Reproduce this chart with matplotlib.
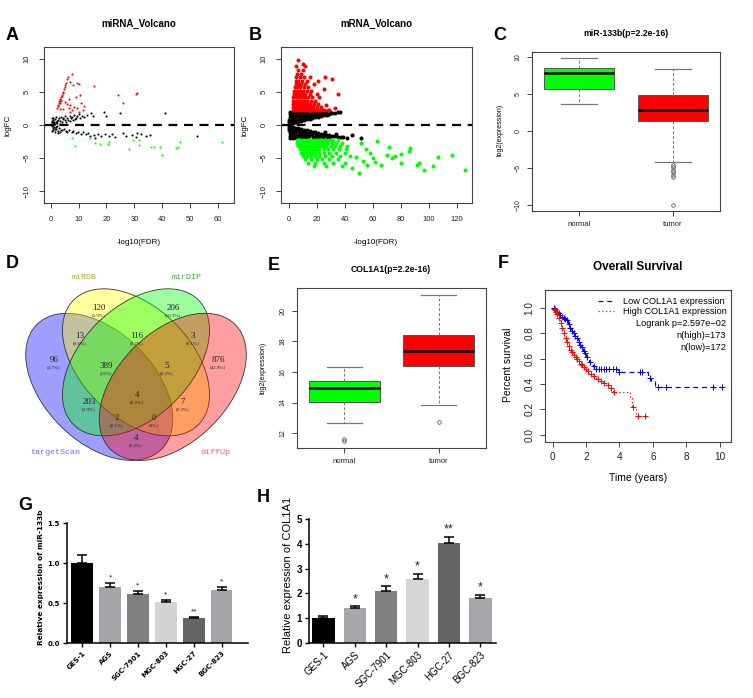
import matplotlib
matplotlib.use('Agg')
import matplotlib.pyplot as plt
from matplotlib.patches import Ellipse
from matplotlib.lines import Line2D
import numpy as np

plt.rcParams['font.family'] = ['Liberation Sans', 'DejaVu Sans']

# ---------------- data ----------------
# volcano A (miRNA): (-log10 FDR, logFC)
volc_a_red = [(2.2, 2.6), (2.5, 3.0), (2.8, 3.3), (3.0, 3.6), (3.2, 3.4), (3.5, 4.0), (3.8, 4.2),
              (4.0, 4.6), (4.3, 4.8), (4.5, 5.0), (4.8, 5.4), (5.0, 5.8), (5.3, 6.0), (5.6, 6.3),
              (5.9, 6.9), (6.2, 7.2), (7.5, 7.7), (6.8, 6.5), (5.0, 3.5), (6.0, 3.2), (6.5, 2.5),
              (7.0, 3.0), (7.8, 2.2), (8.5, 2.7), (9.0, 4.2), (9.5, 6.3), (10.0, 6.2), (10.5, 4.5),
              (11.0, 3.3), (11.5, 2.2), (12.0, 2.8), (8.0, 6.1), (3.2, 2.4), (4.5, 2.4), (6.5, 4.0),
              (15.5, 5.9), (24.0, 4.5), (26.0, 3.3), (30.5, 4.7), (31.0, 4.8), (9.5, 2.5), (7.0, 2.0),
              (10.0, 2.0), (3.6, 3.8), (4.2, 4.4), (2.6, 2.9), (3.4, 3.7)]
volc_a_green = [(7.5, -2.0), (8.8, -3.2), (14.0, -2.0), (16.0, -2.7), (17.5, -2.9), (20.5, -2.8),
                (21.0, -2.6), (28.0, -3.6), (31.5, -2.2), (31.5, -3.0), (36.0, -3.3), (37.0, -3.3),
                (39.0, -3.3), (40.0, -4.6), (45.0, -3.5), (45.5, -3.4), (46.5, -2.6), (61.5, -2.5),
                (29.5, -2.2)]
volc_a_black = [(0.2, 0.1), (0.4, -0.2), (0.5, 0.4), (0.7, -0.5), (0.8, 0.7), (1.0, -0.8), (1.0, 1.1),
                (1.2, 0.2), (1.3, -0.3), (1.5, 0.9), (1.6, -1.0), (1.8, 0.5), (2.0, -0.6), (2.0, 1.2),
                (2.3, 0.3), (2.5, -0.9), (2.6, 0.8), (2.8, -0.4), (3.0, 1.0), (3.2, -1.1), (3.4, 0.6),
                (3.6, -0.7), (3.8, 1.2), (4.0, 0.5), (4.2, -0.8), (4.5, 0.9), (4.8, -0.6), (5.0, 1.3),
                (5.2, 0.7), (5.5, -0.9), (5.8, 1.1), (6.0, -1.0), (6.3, 0.8), (6.6, -0.7), (6.9, 1.4),
                (7.2, 1.0), (7.5, -1.1), (7.8, 1.2), (8.1, -0.9), (8.5, 1.5), (8.8, 0.9), (9.0, -1.2),
                (9.4, 1.3), (9.8, -1.0), (10.2, 1.6), (10.5, 1.0), (10.8, -1.3), (11.2, 1.4), (11.5, -1.1),
                (12.0, 1.2), (12.5, -1.4), (13.0, 1.5), (13.5, -1.2), (14.0, -1.6), (14.5, 1.8), (15.0, 1.3),
                (15.5, -1.5), (16.0, -1.9), (17.0, -1.3), (18.0, -1.6), (19.0, 2.0), (19.5, -1.4),
                (20.0, 1.4), (21.0, -1.7), (22.0, -1.3), (23.0, -1.8), (25.0, 1.8), (26.0, -1.2),
                (27.0, -1.6), (29.0, -1.5), (30.5, -1.8), (31.0, -1.2), (32.5, -1.4), (34.0, -1.6),
                (35.5, -1.5), (41.0, 1.8), (52.5, -1.6), (0.3, 0.6), (0.6, -0.9), (1.1, 0.5), (1.4, -0.6),
                (1.7, 0.2), (2.2, -0.2), (0.9, 0.0), (0.5, 1.0), (3.3, 0.2), (2.7, -1.2), (5.6, 0.4),
                (4.4, 1.1), (7.0, 0.6), (8.0, 0.8), (9.2, 1.1), (1.9, -0.3), (2.4, 0.6), (0.8, 0.3)]

# volcano B (mRNA)
volc_b_black = [(0.3, 0.1), (0.5, 0.4), (0.6, 0.8), (0.8, 1.2), (0.9, 1.6), (1.0, 1.95),
                (1.6, 0.2), (1.8, 0.6), (1.7, 1.0), (2.0, 1.4), (1.9, 1.8),
                (3.0, 0.3), (3.2, 0.7), (2.9, 1.1), (3.3, 1.5), (3.1, 1.9),
                (4.6, 0.4), (5.0, 0.8), (4.8, 1.2), (5.2, 1.6), (4.9, 1.95),
                (6.8, 0.5), (7.1, 0.9), (6.9, 1.3), (7.2, 1.7), (7.0, 1.95),
                (9.0, 0.6), (9.2, 1.0), (8.8, 1.4), (9.1, 1.8),
                (11.0, 0.75), (11.3, 1.1), (10.9, 1.5), (11.2, 1.9),
                (13.1, 0.85), (12.9, 1.25), (13.2, 1.6), (13.0, 1.95),
                (15.0, 0.95), (15.3, 1.35), (14.9, 1.7), (17.0, 1.05), (17.2, 1.45), (16.9, 1.8),
                (19.1, 1.15), (18.9, 1.55), (19.2, 1.9), (21.0, 1.25), (21.2, 1.6), (20.9, 1.95),
                (23.1, 1.35), (22.9, 1.75), (25.0, 1.45), (25.3, 1.85), (27.2, 1.55), (26.9, 1.9),
                (29.0, 1.65), (29.3, 1.95), (31.0, 1.75), (33.2, 1.85), (35.0, 1.9), (36.5, 1.9),
                (0.3, -0.1), (0.5, -0.4), (0.6, -0.8), (0.8, -1.2), (0.9, -1.6), (1.0, -1.95),
                (1.7, -0.25), (1.9, -0.65), (1.8, -1.05), (2.0, -1.45), (1.9, -1.85),
                (3.1, -0.3), (3.0, -0.75), (3.3, -1.15), (2.9, -1.55), (3.2, -1.95),
                (4.8, -0.4), (5.1, -0.85), (4.9, -1.25), (5.2, -1.65), (5.0, -1.95),
                (7.0, -0.5), (6.8, -0.9), (7.2, -1.3), (6.9, -1.7), (9.1, -0.6), (8.9, -1.0),
                (9.2, -1.4), (9.0, -1.8), (11.2, -0.7), (11.0, -1.1), (10.8, -1.5), (11.1, -1.9),
                (13.0, -0.8), (13.3, -1.2), (12.9, -1.6), (13.1, -1.95), (15.2, -0.9), (15.0, -1.3),
                (14.8, -1.7), (17.1, -1.0), (16.9, -1.4), (17.2, -1.8), (19.0, -1.1), (19.3, -1.5),
                (18.9, -1.9), (21.1, -1.2), (20.8, -1.6), (21.2, -1.95), (23.0, -1.3), (23.2, -1.7),
                (25.1, -1.35), (24.9, -1.75), (27.0, -1.45), (27.3, -1.85), (29.2, -1.5), (28.9, -1.9),
                (31.0, -1.6), (33.1, -1.7), (35.0, -1.75), (37.2, -1.8), (39.0, -1.85), (42.0, -1.9),
                (45.5, -1.5), (52.0, -1.9), (34.0, -1.3), (26.0, -1.1)]
volc_b_red = [(3.0, 2.2), (5.0, 2.2), (7.0, 2.2), (9.0, 2.2), (11.0, 2.2), (13.0, 2.2), (15.0, 2.2),
              (17.0, 2.2), (19.0, 2.2), (21.0, 2.2), (23.0, 2.2), (25.0, 2.2), (28.0, 2.2),
              (3.2, 2.7), (5.1, 2.7), (7.2, 2.7), (9.1, 2.7), (11.2, 2.7), (13.1, 2.7), (15.2, 2.7),
              (17.1, 2.7), (20.0, 2.7), (23.0, 2.7),
              (3.0, 3.2), (5.0, 3.2), (7.0, 3.2), (9.0, 3.2), (11.0, 3.2), (13.0, 3.2), (15.0, 3.2),
              (18.0, 3.2), (21.0, 3.2),
              (3.2, 3.7), (5.2, 3.7), (7.1, 3.7), (9.2, 3.7), (11.1, 3.7), (13.2, 3.7), (16.0, 3.7),
              (19.0, 3.7),
              (3.5, 4.2), (5.5, 4.2), (7.5, 4.2), (9.5, 4.2), (11.5, 4.2), (14.0, 4.2), (17.0, 4.2),
              (4.0, 4.7), (6.0, 4.7), (8.0, 4.7), (10.0, 4.7), (12.0, 4.7), (15.0, 4.7), (20.0, 4.7),
              (4.0, 5.2), (6.0, 5.2), (8.0, 5.2), (10.0, 5.2), (13.0, 5.2), (16.0, 5.2),
              (4.5, 5.7), (6.5, 5.7), (8.5, 5.7), (11.0, 5.7), (14.0, 5.7),
              (5.0, 6.2), (7.0, 6.2), (9.0, 6.2), (12.0, 6.2),
              (5.0, 6.7), (7.0, 6.7), (9.5, 6.7), (13.0, 6.7),
              (5.5, 7.2), (8.0, 7.2), (11.0, 7.2), (6.0, 7.7), (9.0, 7.7), (6.5, 8.3), (10.0, 8.3),
              (7.0, 9.9), (10.5, 9.2), (5.5, 8.9), (15.0, 7.3), (26.0, 7.2), (31.0, 6.9), (21.0, 6.6),
              (35.0, 4.7), (25.0, 5.5), (18.0, 6.2), (29.0, 2.3), (33.0, 2.5), (27.0, 3.0), (22.0, 4.2),
              (12.0, 9.0)]
volc_b_green = [(6.0, -2.2), (8.0, -2.2), (10.0, -2.2), (12.0, -2.2), (14.0, -2.2), (16.0, -2.2),
                (18.0, -2.2), (20.0, -2.2), (22.0, -2.2), (24.0, -2.2), (26.0, -2.2), (28.0, -2.2),
                (30.0, -2.2), (32.0, -2.2), (35.0, -2.2),
                (6.2, -2.7), (8.1, -2.7), (10.2, -2.7), (12.1, -2.7), (14.2, -2.7), (16.1, -2.7),
                (18.2, -2.7), (20.1, -2.7), (22.2, -2.7), (24.1, -2.7), (26.2, -2.7), (28.1, -2.7),
                (31.0, -2.7), (34.0, -2.7), (38.0, -2.7),
                (7.0, -3.2), (9.0, -3.2), (11.0, -3.2), (13.0, -3.2), (15.0, -3.2), (17.0, -3.2),
                (19.0, -3.2), (21.0, -3.2), (23.0, -3.2), (25.0, -3.2), (27.0, -3.2), (30.0, -3.2),
                (33.0, -3.2), (37.0, -3.2), (42.0, -3.2),
                (8.0, -3.7), (10.0, -3.7), (12.0, -3.7), (14.0, -3.7), (16.0, -3.7), (18.0, -3.7),
                (20.0, -3.7), (22.0, -3.7), (25.0, -3.7), (28.0, -3.7), (32.0, -3.7), (36.0, -3.7),
                (41.0, -3.7),
                (9.0, -4.2), (11.0, -4.2), (13.0, -4.2), (15.0, -4.2), (17.0, -4.2), (19.0, -4.2),
                (22.0, -4.2), (25.0, -4.2), (29.0, -4.2), (34.0, -4.2), (40.0, -4.2),
                (10.0, -4.7), (13.0, -4.7), (16.0, -4.7), (19.0, -4.7), (22.0, -4.7), (26.0, -4.7),
                (31.0, -4.7), (37.0, -4.7), (44.0, -4.7),
                (12.0, -5.2), (16.0, -5.2), (20.0, -5.2), (24.0, -5.2), (29.0, -5.2), (35.0, -5.2),
                (14.0, -5.7), (19.0, -5.7), (25.0, -5.7), (32.0, -5.7), (40.0, -5.7),
                (18.0, -6.2), (27.0, -6.2), (38.0, -6.2),
                (50.0, -7.2), (45.0, -6.5), (56.0, -6.0), (62.0, -5.6), (66.0, -6.0), (70.0, -4.5),
                (72.0, -3.4), (74.0, -5.0), (80.0, -5.8), (80.0, -4.4), (86.0, -3.9), (87.0, -3.5),
                (92.0, -6.0), (93.0, -5.7), (97.0, -6.8), (103.0, -6.2), (107.0, -4.8), (117.0, -4.5),
                (126.0, -6.8), (63.0, -2.4), (76.0, -4.7), (55.0, -3.6), (58.0, -4.2), (60.0, -5.0),
                (53.0, -5.5), (48.0, -4.8), (52.0, -2.7)]

# boxplots
box_groups = ['normal', 'tumor']
mir_q1 = [5.7, 1.3]
mir_med = [7.8, 2.8]
mir_q3 = [8.5, 4.9]
mir_lo = [3.7, -4.1]
mir_hi = [9.8, 8.4]
mir_out = [[], [-4.6, -4.9, -5.2, -5.5, -5.9, -6.2, -10.0]]
col_q1 = [14.05, 16.4]
col_med = [14.93, 17.4]
col_q3 = [15.4, 18.45]
col_lo = [12.65, 13.85]
col_hi = [16.35, 21.05]
col_out = [[11.45, 11.6], [12.75]]

# venn
venn_sets = ['targetScan', 'miRDB', 'mirDIP', 'diffUp']
venn_counts = [96, 120, 206, 876, 13, 116, 3, 389, 5, 203, 4, 7, 2, 0, 4]
venn_pct = ['4.7%', '5.9%', '10.1%', '42.9%', '0.6%', '5.7%', '0.1%', '19%', '0.2%',
            '9.9%', '0.2%', '0.3%', '0.1%', '0%', '0.2%']

# survival
km_low_t = [0, 0.1, 0.2, 0.3, 0.4, 0.5, 0.6, 0.7, 0.8, 0.9, 1.0, 1.1, 1.2, 1.3, 1.4, 1.5, 1.6,
            1.7, 1.8, 1.9, 2.0, 2.1, 2.2, 2.3, 2.4, 2.5, 3.9, 5.7, 5.9, 6.1, 10.2]
km_low_s = [1.0, 0.99, 0.97, 0.96, 0.94, 0.93, 0.92, 0.91, 0.90, 0.87, 0.84, 0.82, 0.80, 0.78,
            0.76, 0.73, 0.71, 0.69, 0.66, 0.64, 0.61, 0.59, 0.57, 0.55, 0.54, 0.52, 0.49, 0.45,
            0.42, 0.375, 0.375]
km_low_cens = [0.08, 0.15, 0.25, 0.35, 0.45, 0.55, 0.65, 0.75, 0.85, 0.95, 1.05, 1.15, 1.25,
               1.35, 1.45, 1.55, 1.65, 1.75, 1.85, 1.95, 2.05, 2.25, 2.45, 2.6, 2.75, 2.9, 3.05,
               3.2, 3.4, 3.6, 3.8, 4.0, 5.2, 5.35, 5.8, 6.3, 6.8, 9.6, 10.15]
km_high_t = [0, 0.05, 0.1, 0.15, 0.2, 0.25, 0.3, 0.35, 0.4, 0.45, 0.5, 0.55, 0.6, 0.65, 0.7, 0.75,
             0.8, 0.9, 1.0, 1.1, 1.2, 1.3, 1.4, 1.5, 1.6, 1.7, 1.8, 1.9, 2.0, 2.2, 2.4, 2.6, 2.8,
             3.0, 3.2, 3.4, 3.6, 4.65, 4.75, 5.0, 5.6]
km_high_s = [1.0, 0.99, 0.98, 0.97, 0.96, 0.95, 0.93, 0.92, 0.90, 0.88, 0.86, 0.84, 0.82, 0.80,
             0.78, 0.76, 0.73, 0.70, 0.67, 0.65, 0.63, 0.61, 0.60, 0.58, 0.56, 0.55, 0.53, 0.52,
             0.50, 0.48, 0.46, 0.44, 0.42, 0.41, 0.39, 0.37, 0.34, 0.29, 0.22, 0.15, 0.15]
km_high_cens = [0.05, 0.12, 0.18, 0.28, 0.38, 0.48, 0.58, 0.68, 0.78, 0.88, 0.98, 1.08, 1.18,
                1.28, 1.38, 1.48, 1.58, 1.68, 1.78, 1.88, 1.98, 2.1, 2.3, 2.5, 2.7, 2.9, 3.1,
                3.3, 3.5, 3.7, 4.8, 5.1, 5.55]

# qPCR bars
cells = ['GES-1', 'AGS', 'SGC-7901', 'MGC-803', 'HGC-27', 'BGC-823']
mir_rel = [1.0, 0.70, 0.61, 0.51, 0.31, 0.66]
mir_err = [0.10, 0.05, 0.04, 0.03, 0.02, 0.04]
mir_sig = ['', '*', '*', '*', '**', '*']
col_rel = [1.0, 1.4, 2.1, 2.6, 4.02, 1.8]
col_err = [0.08, 0.08, 0.18, 0.18, 0.26, 0.13]
col_sig = ['', '*', '*', '*', '**', '*']

# ---------------- figure ----------------
W, H = 753, 698
fig = plt.figure(figsize=(W / 100, H / 100), dpi=100)


def rect(l, t, r, b):
    return [l / W, 1 - b / H, (r - l) / W, (b - t) / H]


def ftext(x, y, s, **kw):
    kw.setdefault('ha', 'center')
    kw.setdefault('va', 'center')
    fig.text(x / W, 1 - y / H, s, **kw)


def r_style(ax, size=5.5, pad=4):
    for s in ax.spines.values():
        s.set_color('#444444')
        s.set_linewidth(0.8)
    ax.tick_params(length=3.5, width=0.7, color='#444444', labelsize=size, pad=pad,
                   labelcolor='#222222')
    ax.tick_params(axis='y', labelrotation=90)
    for lab in ax.get_yticklabels():
        lab.set_va('center')


# panel letters
for letter, x, y in [('A', 12, 35), ('B', 255, 36), ('C', 500, 36), ('D', 12, 264),
                     ('E', 274, 266), ('F', 503, 264), ('G', 25, 505), ('H', 263, 497)]:
    ftext(x, y, letter, fontsize=13, fontweight='bold')


# volcano plots
def volcano(r, red, green, black, xlim, xticks, ms):
    ax = fig.add_axes(rect(*r))
    for pts, c in [(black, 'black'), (red, 'red'), (green, '#00ff00')]:
        xy = np.array(pts).T
        ax.plot(xy[0], xy[1], 'o', ms=ms, mew=0, color=c)
    ax.axhline(0, color='black', lw=1.6, ls=(0, (4, 3)))
    ax.set_xlim(*xlim)
    ax.set_ylim(-11.8, 11.8)
    ax.set_xticks(xticks)
    ax.set_yticks([-10, -5, 0, 5, 10])
    r_style(ax, pad=6)
    return ax


volcano((44, 47, 234, 203), volc_a_red, volc_a_green, volc_a_black, (-2.4, 65.7),
        range(0, 61, 10), 1.5)
volcano((281, 47, 472, 203), volc_b_red, volc_b_green, volc_b_black, (-5.4, 131),
        range(0, 121, 20), 2.9)
ftext(139, 24, 'miRNA_Volcano', fontsize=7, fontweight='bold')
ftext(376, 24, 'mRNA_Volcano', fontsize=7, fontweight='bold')
for x in (139, 376):
    ftext(x, 242, '-log10(FDR)', fontsize=5.8)
ftext(8, 125, 'logFC', fontsize=5.8, rotation=90)
ftext(245, 125, 'logFC', fontsize=5.8, rotation=90)


# boxplots
def boxpanel(r, q1, med, q3, lo, hi, out, ylim, yticks, ysize):
    ax = fig.add_axes(rect(*r))
    stats = [dict(q1=q1[i], med=med[i], q3=q3[i], whislo=lo[i], whishi=hi[i], fliers=out[i])
             for i in range(2)]
    bp = ax.bxp(stats, positions=[1, 2], widths=0.75, patch_artist=True,
                boxprops=dict(edgecolor='#555555', linewidth=0.7),
                medianprops=dict(color='black', linewidth=1.8),
                whiskerprops=dict(color='#777777', linewidth=0.7, linestyle=(0, (3, 2))),
                capprops=dict(color='#777777', linewidth=0.9),
                flierprops=dict(marker='o', mfc='none', mec='#444444', ms=2.6, mew=0.5))
    for patch, c in zip(bp['boxes'], ['#00ff00', '#ff0000']):
        patch.set_facecolor(c)
    ax.set_xlim(0.5, 2.5)
    ax.set_ylim(*ylim)
    ax.set_yticks(yticks)
    ax.set_xticks([1, 2])
    ax.set_xticklabels(box_groups)
    r_style(ax, ysize)
    ax.tick_params(axis='x', labelsize=5.5)
    return ax


boxpanel((532, 52, 720, 211), mir_q1, mir_med, mir_q3, mir_lo, mir_hi, mir_out,
         (-10.77, 10.67), [-10, -5, 0, 5, 10], 5)
ftext(626, 33, 'miR-133b(p=2.2e-16)', fontsize=6.2, fontweight='bold')
ftext(500, 130, 'log2(expression)', fontsize=5, rotation=90)

boxpanel((297, 288, 486, 448), col_q1, col_med, col_q3, col_lo, col_hi, col_out,
         (11.02, 21.5), [12, 14, 16, 18, 20], 5)
ftext(391, 270, 'COL1A1(p=2.2e-16)', fontsize=6.2, fontweight='bold')
ftext(263, 368, 'log2(expression)', fontsize=5, rotation=90)

# venn
axv = fig.add_axes(rect(13.5, 257, 258.5, 477.5))
axv.set_xlim(0, 1)
axv.set_ylim(0.1, 1.0)
axv.axis('off')
ell_geom = [((0.35, 0.47), -45, 'blue'), ((0.5, 0.57), -45, 'yellow'),
            ((0.5, 0.57), 45, '#00ff00'), ((0.65, 0.47), 45, 'red')]
for (cxy, ang, c) in ell_geom:
    axv.add_patch(Ellipse(cxy, 0.72, 0.45, angle=ang, facecolor=c, alpha=0.38, lw=0))
    axv.add_patch(Ellipse(cxy, 0.72, 0.45, angle=ang, facecolor='none', edgecolor='#333333',
                          lw=0.6))
venn_pos = [(0.165, 0.571), (0.349, 0.784), (0.651, 0.784), (0.835, 0.571), (0.271, 0.669),
            (0.504, 0.669), (0.733, 0.669), (0.378, 0.547), (0.627, 0.547), (0.308, 0.400),
            (0.504, 0.429), (0.692, 0.400), (0.422, 0.335), (0.573, 0.335), (0.5, 0.253)]
for (x, y), n, p in zip(venn_pos, venn_counts, venn_pct):
    axv.text(x, y + 0.008, str(n), ha='center', va='center', fontsize=6.5,
             family='Liberation Serif', color='#222222')
    axv.text(x, y - 0.022, '(' + p + ')', ha='center', va='center', fontsize=3.6,
             family='Liberation Serif', color='#222222')
set_pos = [(0.169, 0.204), (0.29, 0.918), (0.708, 0.918), (0.822, 0.204)]
set_col = ['#6a6aff', '#a8a838', '#3faa3f', '#ff5a5a']
for (x, y), name, c in zip(set_pos, venn_sets, set_col):
    axv.text(x, y, name, ha='center', va='center', fontsize=6, family='Liberation Mono',
             color=c)

# survival
axf = fig.add_axes(rect(545, 290, 731, 442))


def surv_at(t, s, ct):
    idx = np.searchsorted(t, ct, side='right') - 1
    return np.array(s)[idx]


axf.step(km_low_t, km_low_s, where='post', color='blue', lw=0.9, ls=(0, (4, 3)))
axf.step(km_high_t, km_high_s, where='post', color='red', lw=0.9, ls=(0, (1, 2)))
axf.plot(km_low_cens, surv_at(km_low_t, km_low_s, km_low_cens), '+', color='blue', ms=5, mew=0.7)
axf.plot(km_high_cens, surv_at(km_high_t, km_high_s, km_high_cens), '+', color='red', ms=5,
         mew=0.7)
axf.set_xlim(-0.46, 10.68)
axf.set_ylim(-0.058, 1.14)
axf.set_xticks([0, 2, 4, 6, 8, 10])
axf.set_yticks([0.0, 0.2, 0.4, 0.6, 0.8, 1.0])
axf.set_yticklabels(['0.0', '0.2', '0.4', '0.6', '0.8', '1.0'])
r_style(axf, 7.2)
ftext(638, 267, 'Overall Survival', fontsize=8.5, fontweight='bold')
ftext(638, 478, 'Time (years)', fontsize=7.5)
ftext(508, 365, 'Percent survival', fontsize=7.5, rotation=90)
fig.add_artist(Line2D([598 / W, 614 / W], [1 - 301 / H] * 2, color='blue', lw=0.9,
                      ls=(0, (4, 3))))
fig.add_artist(Line2D([598 / W, 614 / W], [1 - 311 / H] * 2, color='red', lw=0.9,
                      ls=(0, (1, 2))))
ftext(623, 301, 'Low COL1A1 expression', fontsize=6.6, ha='left')
ftext(623, 311, 'High COL1A1 expression', fontsize=6.6, ha='left')
ftext(726, 323, 'Logrank p=2.597e\u221202', fontsize=6.6, ha='right')
ftext(726, 335, 'n(high)=173', fontsize=6.6, ha='right')
ftext(726, 347, 'n(low)=172', fontsize=6.6, ha='right')


# qPCR bar charts
def barpanel(r, vals, errs, sig, ylim, yticks, xlim, width, colors, tsize, bold, star_size,
             star_off, ylab, ylab_x, ylab_size):
    ax = fig.add_axes(rect(*r))
    x = np.arange(len(cells))
    ax.bar(x, vals, width=width, color=colors, edgecolor='none')
    ax.errorbar(x, vals, yerr=[np.zeros(len(vals)), errs], fmt='none', ecolor='black',
                elinewidth=1.1, capsize=3.5, capthick=1.1)
    for i in range(len(cells)):
        if sig[i]:
            ax.text(x[i], vals[i] + errs[i] + star_off, sig[i], ha='center', va='bottom',
                    fontsize=star_size, color='#222222')
    ax.set_xlim(*xlim)
    ax.set_ylim(*ylim)
    ax.set_yticks(yticks)
    ax.set_xticks(x)
    for s in ['top', 'right']:
        ax.spines[s].set_visible(False)
    for s in ['left', 'bottom']:
        ax.spines[s].set_linewidth(1.1)
    ax.tick_params(length=3, width=1.0, labelsize=tsize, pad=2)
    wt = 'bold' if bold else 'normal'
    fam = ['DejaVu Sans'] if bold else ['Liberation Sans']
    ax.set_xticklabels(cells, rotation=45, ha='right', rotation_mode='anchor',
                       fontweight=wt, family=fam)
    for lab in ax.get_yticklabels():
        lab.set_fontweight('bold')
        lab.set_family(fam)
    ftext(ylab_x, (r[1] + r[3]) / 2 - 6, ylab, rotation=90, fontsize=ylab_size, fontweight=wt,
          family=fam)
    return ax


axg = barpanel((67, 523, 248, 643), mir_rel, mir_err, mir_sig, (0, 1.5), [0.0, 0.5, 1.0, 1.5],
               (-0.54, 5.94), 0.77,
               ['#000000', '#a3a3a8', '#808080', '#d4d4d4', '#646464', '#a3a3a8'],
               5, True, 6, 0.02, 'Relative expression of miR-133b', 41, 5.3)
axg.set_yticklabels(['0.0', '0.5', '1.0', '1.5'], fontweight='bold', family=['DejaVu Sans'])
axh = barpanel((309, 519, 496, 643), col_rel, col_err, col_sig, (0, 5), [0, 1, 2, 3, 4, 5],
               (-0.46, 5.5), 0.72,
               ['#000000', '#a6a6ab', '#808080', '#d6d6d6', '#646464', '#a6a6ab'],
               7, False, 9, 0.05, 'Relative expression of COL1A1', 288, 8)

fig.savefig('out.png', dpi=100)
